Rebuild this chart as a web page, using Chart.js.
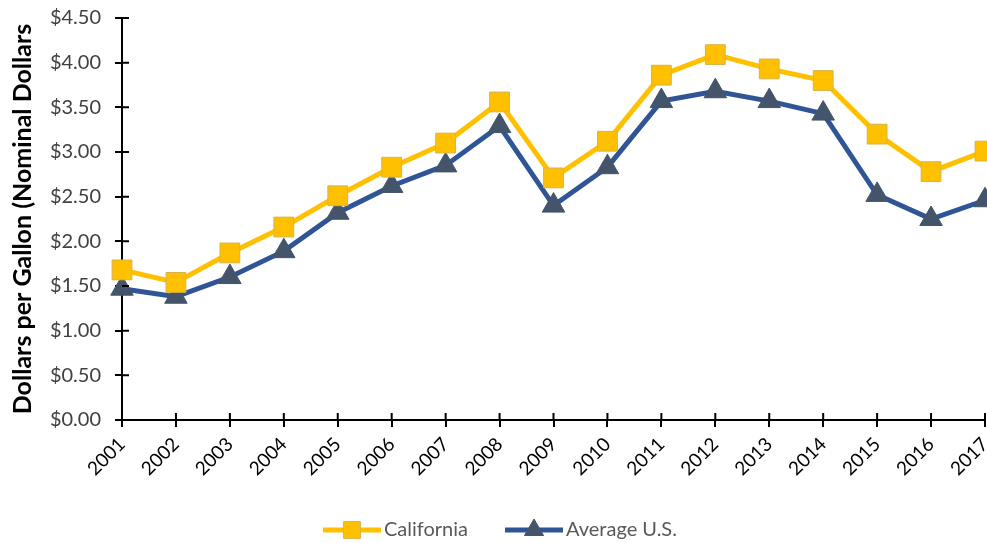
<!DOCTYPE html>
<html>
<head>
<meta charset="utf-8">
<script src="https://cdn.jsdelivr.net/npm/chart.js@4/dist/chart.umd.min.js"></script>
<style>
  html, body { margin: 0; padding: 0; background: #fff; }
  #wrap { width: 987px; height: 543px; }
</style>
</head>
<body>
<div id="wrap"><canvas id="mychart"></canvas></div>
<script>
// data
const years = ["2001", "2002", "2003", "2004", "2005", "2006", "2007", "2008", "2009",
  "2010", "2011", "2012", "2013", "2014", "2015", "2016", "2017"];
const california = [1.68, 1.54, 1.87, 2.16, 2.51, 2.83, 3.10, 3.56, 2.71,
  3.12, 3.86, 4.09, 3.93, 3.80, 3.20, 2.78, 3.01];
const averageUS = [1.47, 1.38, 1.60, 1.89, 2.32, 2.62, 2.85, 3.29, 2.40,
  2.83, 3.57, 3.68, 3.57, 3.43, 2.52, 2.25, 2.46];
const yTicks = [0, 0.5, 1, 1.5, 2, 2.5, 3, 3.5, 4, 4.5];

const FONT = "Lato, 'Open Sans', sans-serif";

// ticks that cross the axis line (inner half)
const innerTicks = {
  id: "innerTicks",
  afterDraw(chart) {
    const ctx = chart.ctx;
    const x = chart.scales.x, y = chart.scales.y;
    ctx.save();
    ctx.strokeStyle = "#000";
    ctx.lineWidth = 2;
    ctx.beginPath();
    x.ticks.forEach((t, i) => {
      const px = x.getPixelForTick(i);
      ctx.moveTo(px, x.top);
      ctx.lineTo(px, x.top - 7);
    });
    y.ticks.forEach((t, i) => {
      const py = y.getPixelForTick(i);
      ctx.moveTo(y.right, py);
      ctx.lineTo(y.right + 7, py);
    });
    ctx.stroke();
    ctx.restore();
  }
};

// legend with line + marker like the original
const lineLegend = {
  id: "lineLegend",
  afterDraw(chart) {
    const ctx = chart.ctx;
    const items = [
      { ds: chart.data.datasets[0], x: 323 },
      { ds: chart.data.datasets[1], x: 505 }
    ];
    const ly = 530;
    ctx.save();
    items.forEach((it) => {
      ctx.strokeStyle = it.ds.borderColor;
      ctx.lineWidth = 5;
      ctx.beginPath();
      ctx.moveTo(it.x, ly);
      ctx.lineTo(it.x + 58, ly);
      ctx.stroke();
      ctx.fillStyle = it.ds.pointBackgroundColor;
      ctx.strokeStyle = it.ds.pointBorderColor;
      ctx.lineWidth = 1;
      Chart.helpers.drawPoint(ctx, {
        pointStyle: it.ds.pointStyle,
        radius: it.ds.pointRadius * 0.85,
        borderWidth: 1
      }, it.x + 29, ly);
      ctx.fillStyle = "#595959";
      ctx.font = "20px " + FONT;
      ctx.textBaseline = "middle";
      ctx.textAlign = "left";
      ctx.fillText(it.ds.label, it.x + 61, ly);
    });
    ctx.restore();
  }
};

const ctx = document.getElementById("mychart").getContext("2d");

const myChart = new Chart(ctx, {
  type: "line",
  data: {
    labels: years,
    datasets: [
      {
        label: "California",
        data: california,
        borderColor: "#FFC000",
        borderWidth: 5,
        pointStyle: "rect",
        pointRadius: 14,
        pointBackgroundColor: "#FFC000",
        pointBorderColor: "#D9B24A",
        pointBorderWidth: 1,
        tension: 0,
        clip: false
      },
      {
        label: "Average U.S.",
        data: averageUS,
        borderColor: "#2F5597",
        borderWidth: 5,
        pointStyle: "triangle",
        pointRadius: 13,
        pointBackgroundColor: "#44546A",
        pointBorderColor: "#44546A",
        pointBorderWidth: 1,
        tension: 0,
        clip: false
      }
    ]
  },
  options: {
    responsive: true,
    maintainAspectRatio: false,
    animation: false,
    layout: { autoPadding: false, padding: { top: 18, right: 2, left: 0, bottom: 0 } },
    plugins: {
      legend: { display: false },
      tooltip: { enabled: false }
    },
    scales: {
      x: {
        offset: false,
        grid: { drawOnChartArea: false, color: "#000", lineWidth: 2, tickLength: 7 },
        border: { color: "#000", width: 2 },
        ticks: {
          maxRotation: 45,
          minRotation: 45,
          padding: 6,
          color: "#000",
          font: { family: FONT, size: 19 }
        },
        afterFit(scale) {
          scale.height = 123;
          scale.paddingRight = 0;
          scale.paddingLeft = 0;
        }
      },
      y: {
        min: 0,
        max: 4.5,
        afterBuildTicks(scale) { scale.ticks = yTicks.map((v) => ({ value: v })); },
        grid: { drawOnChartArea: false, color: "#000", lineWidth: 2, tickLength: 7 },
        border: { color: "#000", width: 2 },
        ticks: {
          color: "#404040",
          padding: 14,
          font: { family: FONT, size: 20 },
          callback: (v) => "$" + Number(v).toFixed(2)
        },
        title: {
          display: true,
          text: "Dollars per Gallon (Nominal Dollars",
          color: "#000",
          padding: { top: 8, bottom: 0 },
          font: { family: FONT, size: 25, weight: "bold" }
        },
        afterFit(scale) {
          scale.width = 122;
          scale.paddingTop = 0;
          scale.paddingBottom = 0;
        }
      }
    }
  },
  plugins: [innerTicks, lineLegend]
});
</script>
</body>
</html>
